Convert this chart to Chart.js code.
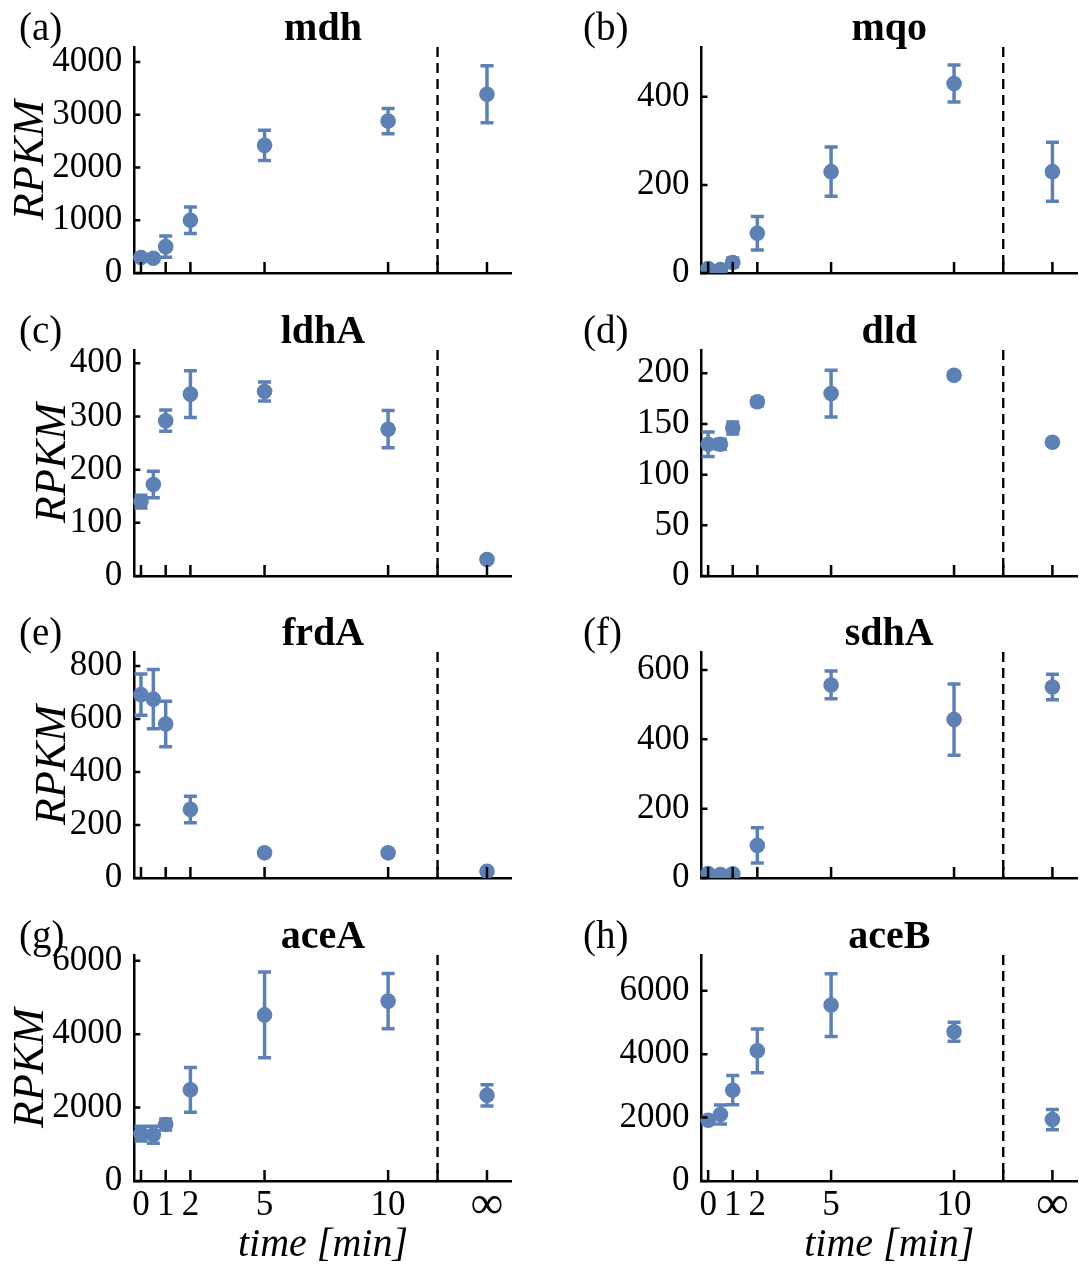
<!DOCTYPE html>
<html>
<head>
<meta charset="utf-8">
<title>RPKM time courses</title>
<script src="https://cdn.jsdelivr.net/npm/chart.js@4.4.1/dist/chart.umd.min.js"></script>
<style>
  html, body { margin: 0; padding: 0; background: #fff; }
  #figure { position: relative; width: 1087px; height: 1264px; background: #fff; overflow: hidden; }
  #figure canvas { position: absolute; }
</style>
</head>
<body>
<div id="figure"></div>
<script>
// sampling times; the "infinity" sample is drawn at x = 14, right of the break at 12
const timePoints = [0, 0.5, 1, 2, 5, 10, 14];
const breakTime = 12;
const xTickValues = [0, 1, 2, 5, 10, 12, 14];
const xTickLabels = ['0', '1', '2', '5', '10', '', '\u221E'];

const genes = ['mdh', 'mqo', 'ldhA', 'dld', 'frdA', 'sdhA', 'aceA', 'aceB'];
const panelLetters = ['(a)', '(b)', '(c)', '(d)', '(e)', '(f)', '(g)', '(h)'];

// mean RPKM and error (half-width) per time point
const mdhRpkm  = [295, 280, 500, 1000, 2420, 2880, 3390];
const mdhErr   = [50, 50, 200, 250, 285, 240, 540];
const mqoRpkm  = [10, 8, 24, 90, 230, 430, 230];
const mqoErr   = [5, 4, 10, 38, 56, 42, 67];
const ldhARpkm = [140, 172, 292, 342, 347, 276, 31];
const ldhAErr  = [12, 25, 20, 44, 18, 35, 5];
const dldRpkm  = [130, 130, 146, 172, 180, 198, 132];
const dldErr   = [12, 5, 6, 4, 23, 3, 3];
const frdARpkm = [692, 675, 581, 259, 95, 95, 25];
const frdAErr  = [78, 112, 86, 50, 5, 5, 5];
const sdhARpkm = [13, 10, 12, 94, 557, 457, 551];
const sdhAErr  = [5, 5, 5, 51, 40, 103, 37];
const aceARpkm = [1290, 1260, 1540, 2483, 4524, 4900, 2335];
const aceAErr  = [200, 230, 150, 610, 1170, 750, 290];
const aceBRpkm = [1916, 2095, 2863, 4105, 5547, 4705, 1937];
const aceBErr  = [120, 300, 460, 690, 990, 300, 320];

// y axis ranges and tick labels
const yMaxima = [4285, 513, 425, 223, 853, 652, 6156, 7126];
const yTicksMdh  = [0, 1000, 2000, 3000, 4000];
const yTicksMqo  = [0, 200, 400];
const yTicksLdhA = [0, 100, 200, 300, 400];
const yTicksDld  = [0, 50, 100, 150, 200];
const yTicksFrdA = [0, 200, 400, 600, 800];
const yTicksSdhA = [0, 200, 400, 600];
const yTicksAceA = [0, 2000, 4000, 6000];
const yTicksAceB = [0, 2000, 4000, 6000];

const allRpkm = [mdhRpkm, mqoRpkm, ldhARpkm, dldRpkm, frdARpkm, sdhARpkm, aceARpkm, aceBRpkm];
const allErr = [mdhErr, mqoErr, ldhAErr, dldErr, frdAErr, sdhAErr, aceAErr, aceBErr];
const allYTicks = [yTicksMdh, yTicksMqo, yTicksLdhA, yTicksDld, yTicksFrdA, yTicksSdhA, yTicksAceA, yTicksAceB];

const pointColor = '#5e81b5';
const rowTops = [0, 303, 605, 908];
const rowHeights = [303, 302, 303, 356];
const rpkmPadding = [9, 31, 31, 9];

Chart.defaults.font.family = '"Liberation Serif", "Times New Roman", serif';
Chart.defaults.color = '#000';

// dashed break line, error bars, inward ticks, panel letter and gene title
const panelDecor = {
  id: 'panelDecor',
  beforeDatasetsDraw(chart) {
    const { ctx, chartArea: area, scales: { x, y } } = chart;
    const px = x.getPixelForValue(breakTime);
    ctx.save();
    ctx.strokeStyle = '#000';
    ctx.lineWidth = 2.4;
    ctx.setLineDash([10, 6]);
    ctx.beginPath();
    ctx.moveTo(px, area.top);
    ctx.lineTo(px, area.bottom);
    ctx.stroke();
    ctx.restore();

    const ds = chart.data.datasets[0];
    ctx.save();
    ctx.beginPath();
    ctx.rect(area.left - 20, area.top - 20, area.right - area.left + 40, area.bottom - area.top + 20);
    ctx.clip();
    ctx.strokeStyle = pointColor;
    ctx.lineWidth = 3.5;
    ds.data.forEach((p, k) => {
      const err = ds.errors[k];
      const cx = x.getPixelForValue(p.x);
      const yHi = y.getPixelForValue(p.y + err);
      const yLo = y.getPixelForValue(p.y - err);
      ctx.beginPath();
      ctx.moveTo(cx, yHi);
      ctx.lineTo(cx, yLo);
      ctx.moveTo(cx - 6.5, yHi);
      ctx.lineTo(cx + 6.5, yHi);
      ctx.moveTo(cx - 6.5, yLo);
      ctx.lineTo(cx + 6.5, yLo);
      ctx.stroke();
    });
    ctx.restore();
  },
  afterDraw(chart, args, opts) {
    const { ctx, chartArea: area, scales: { x, y } } = chart;
    ctx.save();
    ctx.strokeStyle = '#000';
    ctx.lineWidth = 2.5;
    ctx.beginPath();
    xTickValues.forEach(v => {
      const px = x.getPixelForValue(v);
      ctx.moveTo(px, area.bottom);
      ctx.lineTo(px, area.bottom - 11);
    });
    y.ticks.forEach(t => {
      const py = y.getPixelForValue(t.value);
      ctx.moveTo(area.left, py);
      ctx.lineTo(area.left + 6, py);
    });
    ctx.stroke();

    ctx.fillStyle = '#000';
    ctx.textBaseline = 'alphabetic';
    ctx.textAlign = 'center';
    ctx.font = 'bold 40px "Liberation Serif"';
    ctx.fillText(opts.title, (area.left + area.right) / 2, 40);
    ctx.textAlign = 'left';
    ctx.font = '39px "Liberation Serif"';
    ctx.fillText(opts.letter, opts.letterX, 40);
    ctx.restore();
  }
};

function buildPanel(i) {
  const col = i % 2;
  const row = Math.floor(i / 2);
  const isBottom = row === 3;
  const left = col === 0 ? 0 : 543;
  const width = col === 0 ? 543 : 544;
  const height = rowHeights[row];

  const canvas = document.createElement('canvas');
  canvas.width = width;
  canvas.height = height;
  canvas.style.left = left + 'px';
  canvas.style.top = rowTops[row] + 'px';
  canvas.style.width = width + 'px';
  canvas.style.height = height + 'px';
  document.getElementById('figure').appendChild(canvas);

  const points = timePoints.map((t, k) => ({ x: t, y: allRpkm[i][k] }));

  new Chart(canvas.getContext('2d'), {
    type: 'scatter',
    data: {
      datasets: [{
        data: points,
        errors: allErr[i],
        backgroundColor: pointColor,
        borderWidth: 0,
        pointRadius: 7.8,
        pointHoverRadius: 7.8,
        clip: { left: 10, top: 10, right: 10, bottom: 0 }
      }]
    },
    options: {
      responsive: false,
      animation: false,
      devicePixelRatio: 1,
      layout: { padding: { top: 47, left: 0, right: col === 0 ? 31.3 : 10, bottom: 0 } },
      plugins: {
        legend: { display: false },
        tooltip: { enabled: false },
        panelDecor: { title: genes[i], letter: panelLetters[i], letterX: col === 0 ? 19 : 40 }
      },
      scales: {
        x: {
          type: 'linear',
          min: -0.27,
          max: 15,
          grid: { display: false },
          border: { display: true, color: '#000', width: 2.5 },
          afterBuildTicks: s => { s.ticks = xTickValues.map(v => ({ value: v })); },
          afterFit: s => { s.height = height - 273; },
          ticks: {
            display: isBottom,
            padding: -4,
            autoSkip: false,
            maxRotation: 0,
            color: '#000',
            // the infinity glyph is set a little larger, as in the source figure
            font: c => (c.tick && c.tick.value === 14)
              ? { size: 46, lineHeight: 0.9 }
              : { size: 35, lineHeight: 1.2 },
            callback: v => xTickLabels[xTickValues.indexOf(v)]
          },
          title: {
            display: isBottom,
            text: 'time [min]',
            color: '#000',
            font: { size: 40, style: 'italic', lineHeight: 0.95 },
            padding: { top: 0, bottom: 0 }
          }
        },
        y: {
          min: 0,
          max: yMaxima[i],
          grid: { display: false },
          border: { display: true, color: '#000', width: 2.5 },
          afterBuildTicks: s => { s.ticks = allYTicks[i].map(v => ({ value: v })); },
          afterFit: s => { s.width = col === 0 ? 134.3 : 158.5; },
          ticks: {
            padding: 4,
            color: '#000',
            font: { size: 35 },
            callback: v => String(v)
          },
          title: {
            display: col === 0,
            text: 'RPKM',
            color: '#000',
            font: { size: 44, style: 'italic', lineHeight: 1 },
            padding: { top: rpkmPadding[row], bottom: 0 }
          }
        }
      }
    },
    plugins: [panelDecor]
  });
}

for (let i = 0; i < genes.length; i++) buildPanel(i);
</script>
</body>
</html>
